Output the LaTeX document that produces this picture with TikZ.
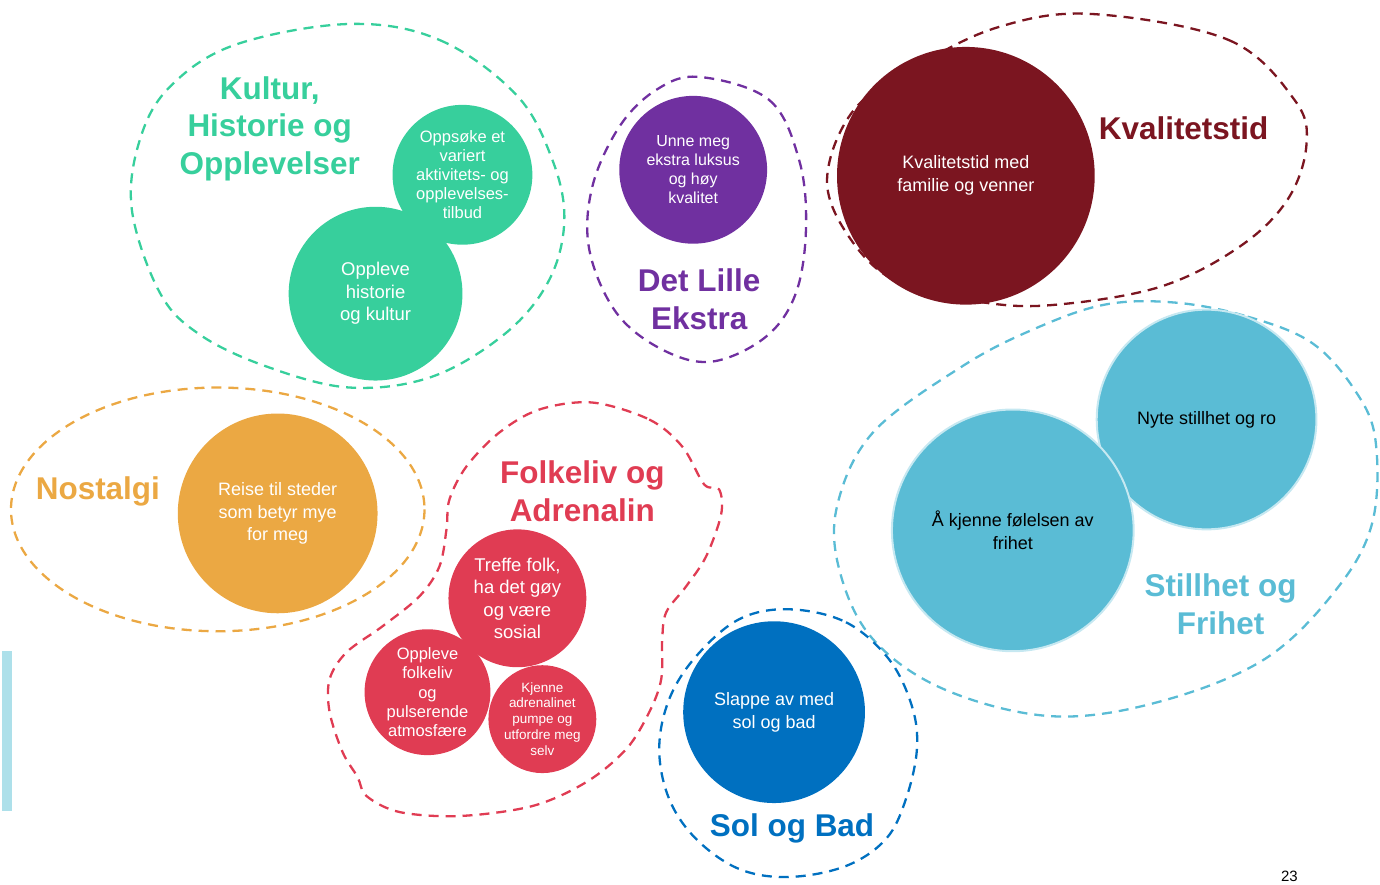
\documentclass[tikz,border=0pt]{standalone}
\usepackage{fontspec}
\setmainfont{Liberation Sans}

\definecolor{kulturgreen}{HTML}{37CF9C}
\definecolor{ekstrapurple}{HTML}{7030A0}
\definecolor{tidmaroon}{HTML}{7B1520}
\definecolor{frihetblue}{HTML}{5ABCD5}
\definecolor{frihetring}{HTML}{C6E8F1}
\definecolor{folkred}{HTML}{E03C53}
\definecolor{solblue}{HTML}{0070C0}
\definecolor{nostorange}{HTML}{EBA843}
\definecolor{barblue}{HTML}{ADE0EA}

\newcommand{\txtsize}[2]{\fontsize{#1}{#2}\selectfont}

\begin{document}
\begin{tikzpicture}[x=1pt, y=-1pt,
    bubble/.style={circle, inner sep=-3pt, align=center, text=white},
    group/.style={line width=2.3pt, dash pattern=on 10pt off 7pt},
    heading/.style={align=center, font=\bfseries\txtsize{31.5}{38}},
    ]

    %% Background
    \draw[draw=none] (0,0) rectangle (1380,880);

    % Groups
    \draw[group, kulturgreen] plot[smooth cycle, tension=0.6] coordinates
    {(350,24) (440,40) (517,95) (553,160) (565,220) (550,280) (507,333) (433,377)
     (350,388) (267,367) (200,335) (160,293) (132,210) (140,140) (170,87) (235,45)};
    \draw[group, ekstrapurple] plot[smooth cycle, tension=0.6] coordinates
    {(700,77) (770,100) (800,160) (807,227) (797,293) (767,337) (713,362)
     (663,350) (617,313) (590,250) (593,187) (620,127) (657,90)};
    \draw[group, tidmaroon] plot[smooth cycle, tension=0.6] coordinates
    {(1093,14) (1230,40) (1296,100) (1308,145) (1289,200) (1241,247) (1162,287)
     (1058,305) (986,303) (900,283) (852,240) (828,180) (855,110) (920,65) (1000,27)};
    \draw[group, frihetblue] plot[smooth cycle, tension=0.6] coordinates
    {(1177,303) (1249,317) (1313,343) (1356,390) (1377,440) (1374,523) (1338,590)
     (1266,660) (1159,703) (1052,717) (945,690) (874,640) (841,573) (838,507)
     (874,433) (963,367) (1034,330) (1106,305)};
    \draw[group, folkred] plot[smooth cycle, tension=0.55] coordinates
    {(593,403) (650,420) (683,447) (705,485) (720,490) (722,515) (707,557) (687,587)
     (667,613) (663,640) (662,680) (650,713) (627,750) (587,783) (533,807)
     (460,817) (400,813) (367,797) (358,778) (343,753) (330,713) (330,680)
     (347,653) (383,627) (420,597) (440,567) (447,530) (450,500) (467,467)
     (500,433) (540,410)};
    \draw[group, solblue] plot[smooth cycle, tension=0.6] coordinates
    {(790,610) (847,623) (890,660) (913,707) (918,750) (907,800) (887,840)
     (847,867) (790,878) (740,870) (697,840) (670,800) (660,750) (670,700)
     (697,657) (740,620)};
    \draw[group, nostorange] (218,510) ellipse [x radius=207, y radius=122];

    % Kultur
    \node[bubble, fill=kulturgreen, minimum size=140pt, font=\txtsize{16.5}{19}]
        (oppsoke) at (463,175) {Oppsøke et\\variert\\aktivitets- og\\opplevelses-\\tilbud};
    \node[bubble, fill=kulturgreen, minimum size=174pt, font=\txtsize{18.5}{22.5}]
        (historie) at (376,294) {Oppleve\\historie\\og kultur};
    \node[heading, text=kulturgreen] (kultur) at (270,129) {Kultur,\\Historie og\\Opplevelser};

    % Det Lille Ekstra
    \node[bubble, fill=ekstrapurple, minimum size=148pt, font=\txtsize{16}{19}]
        (luksus) at (694,170) {Unne meg\\ekstra luksus\\og høy\\kvalitet};
    \node[heading, text=ekstrapurple] (ekstra) at (700,300) {Det Lille\\Ekstra};

    % Kvalitetstid
    \node[bubble, fill=tidmaroon, minimum size=258pt, font=\txtsize{18}{23}]
        (familie) at (967,176) {Kvalitetstid med\\familie og venner};
    \node[heading, text=tidmaroon] (kvalitet) at (1185,128) {Kvalitetstid};

    % Stillhet og Frihet
    \node[bubble, fill=frihetblue, draw=frihetring, line width=2pt, minimum size=220pt,
        text=black, font=\txtsize{18}{23}] (stillhet) at (1208,420) {Nyte stillhet og ro};
    \node[bubble, fill=frihetblue, draw=frihetring, line width=2pt, minimum size=242pt,
        text=black, font=\txtsize{18}{23}] (folelse) at (1014,531) {Å kjenne følelsen av\\frihet};
    \node[heading, text=frihetblue] (frihet) at (1222,605) {Stillhet og\\Frihet};

    % Nostalgi
    \node[bubble, fill=nostorange, minimum size=200pt, font=\txtsize{18}{22.5}]
        (steder) at (278,514) {Reise til steder\\som betyr mye\\for meg};
    \node[heading, text=nostorange] (nostalgi) at (98,492) {Nostalgi};

    % Folkeliv og Adrenalin
    \node[bubble, fill=folkred, minimum size=138pt, font=\txtsize{18.5}{22.4}]
        (treffe) at (518,599) {Treffe folk,\\ha det gøy\\og være\\sosial};
    \node[bubble, fill=folkred, minimum size=126pt, font=\txtsize{16.5}{19.3}]
        (folkeliv) at (428,693) {Oppleve\\folkeliv\\og\\pulserende\\atmosfære};
    \node[bubble, fill=folkred, minimum size=108pt, font=\txtsize{13.5}{16}]
        (adrenalin) at (543,720) {Kjenne\\adrenalinet\\pumpe og\\utfordre meg\\selv};
    \node[heading, text=folkred] (folk) at (583,492) {Folkeliv og\\Adrenalin};

    % Sol og Bad
    \node[bubble, fill=solblue, minimum size=182pt, font=\txtsize{18}{22.5}]
        (slappe) at (775,713) {Slappe av med\\sol og bad};
    \node[heading, text=solblue] (sol) at (793,829) {Sol og Bad};

    % Side bar and page number
    \fill[barblue] (2,652) rectangle (12,812);
    \node[font=\txtsize{15}{18}] (side) at (1291,877) {23};

\end{tikzpicture}
\end{document}
